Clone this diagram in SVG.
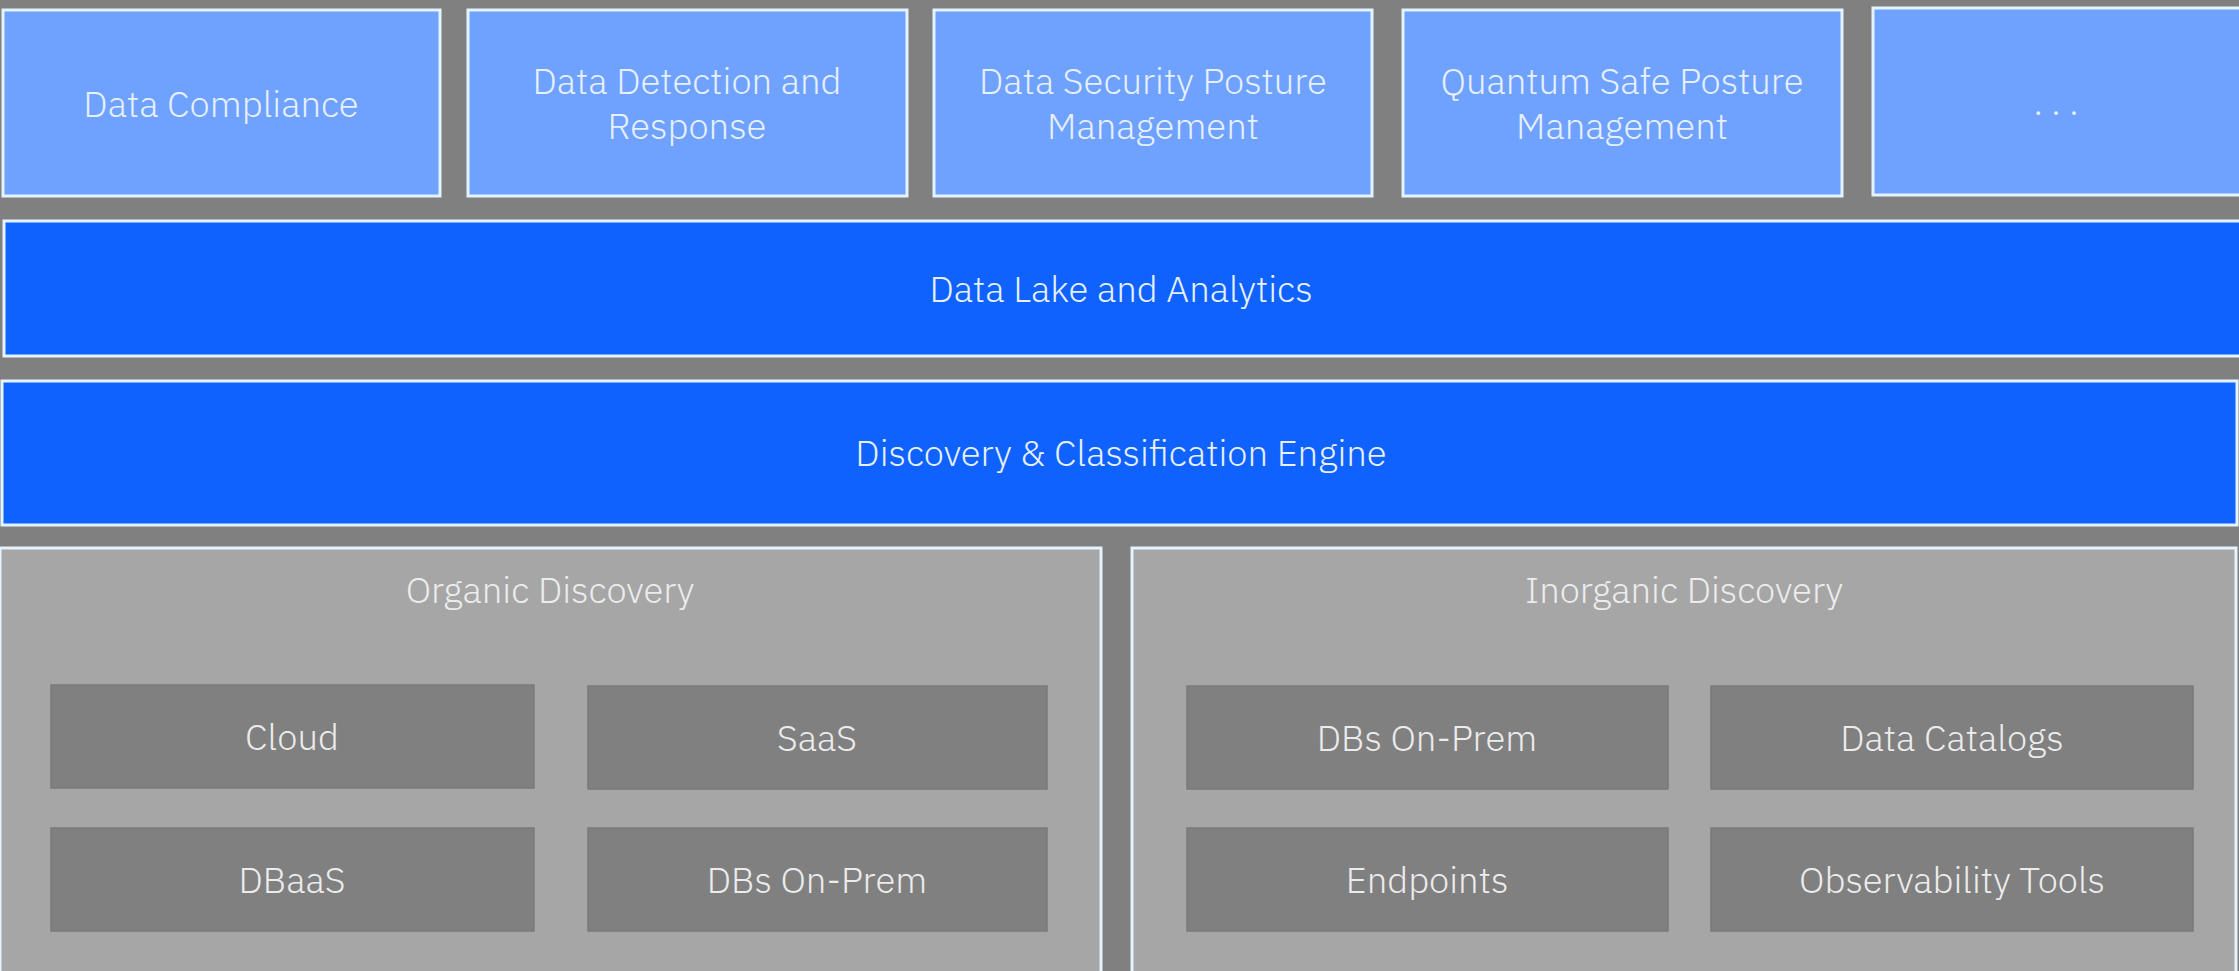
<svg xmlns="http://www.w3.org/2000/svg" width="2239" height="971" viewBox="0 0 2239 971">
<style>
.bg{fill:#808080}
.top{fill:#6fa1fe;stroke:#e4f3ff;stroke-width:3}
.band{fill:#0f62fe;stroke:#e4f3ff;stroke-width:3}
.panel{fill:#a6a6a6;stroke:#e4f3ff;stroke-width:3}
.inner{fill:#808080;stroke:#7a7a7a;stroke-width:1.5}
text{font-family:"IBM Plex Sans",Roboto,"Liberation Sans",sans-serif;font-weight:300;font-size:36.5px;text-anchor:middle}
.tb{fill:#e6f0ff}
.tg{fill:#ececec}
</style>
<rect class="bg" x="0" y="0" width="2239" height="971"/>
<g id="data-compliance"><rect class="top" x="3" y="10" width="437" height="186"/><text class="tb" x="221" y="117">Data Compliance</text></g>
<g id="data-detection"><rect class="top" x="468" y="10" width="439" height="186"/><text class="tb" x="687" y="94">Data Detection and</text><text class="tb" x="687" y="139">Response</text></g>
<g id="dspm"><rect class="top" x="934" y="10" width="438" height="186"/><text class="tb" x="1153" y="94">Data Security Posture</text><text class="tb" x="1153" y="139">Management</text></g>
<g id="qspm"><rect class="top" x="1403" y="10" width="439" height="186"/><text class="tb" x="1622" y="94">Quantum Safe Posture</text><text class="tb" x="1622" y="139">Management</text></g>
<g id="more"><rect class="top" x="1873" y="8" width="380" height="187"/><text class="tb" x="2056" y="115" style="font-size:36px">. . .</text></g>
<g id="data-lake"><rect class="band" x="4" y="221" width="2250" height="135"/><text class="tb" x="1121" y="302">Data Lake and Analytics</text></g>
<g id="discovery-engine"><rect class="band" x="2" y="381" width="2235" height="144"/><text class="tb" x="1121" y="466">Discovery &amp; Classification Engine</text></g>
<g id="organic"><rect class="panel" x="0" y="548" width="1101" height="430"/><text class="tg" x="550" y="603">Organic Discovery</text></g>
<g id="inorganic"><rect class="panel" x="1132" y="548" width="1104" height="430"/><text class="tg" x="1684" y="603">Inorganic Discovery</text></g>
<g id="cloud"><rect class="inner" x="51" y="685" width="483" height="103"/><text class="tg" x="292" y="750">Cloud</text></g>
<g id="saas"><rect class="inner" x="588" y="686" width="459" height="103"/><text class="tg" x="817" y="751">SaaS</text></g>
<g id="dbaas"><rect class="inner" x="51" y="828" width="483" height="103"/><text class="tg" x="292" y="893">DBaaS</text></g>
<g id="dbs-onprem-organic"><rect class="inner" x="588" y="828" width="459" height="103"/><text class="tg" x="817" y="893">DBs On-Prem</text></g>
<g id="dbs-onprem-inorganic"><rect class="inner" x="1187" y="686" width="481" height="103"/><text class="tg" x="1427" y="751">DBs On-Prem</text></g>
<g id="data-catalogs"><rect class="inner" x="1711" y="686" width="482" height="103"/><text class="tg" x="1952" y="751">Data Catalogs</text></g>
<g id="endpoints"><rect class="inner" x="1187" y="828" width="481" height="103"/><text class="tg" x="1427" y="893">Endpoints</text></g>
<g id="observability"><rect class="inner" x="1711" y="828" width="482" height="103"/><text class="tg" x="1952" y="893">Observability Tools</text></g>
<g id="connectors"/>
</svg>
